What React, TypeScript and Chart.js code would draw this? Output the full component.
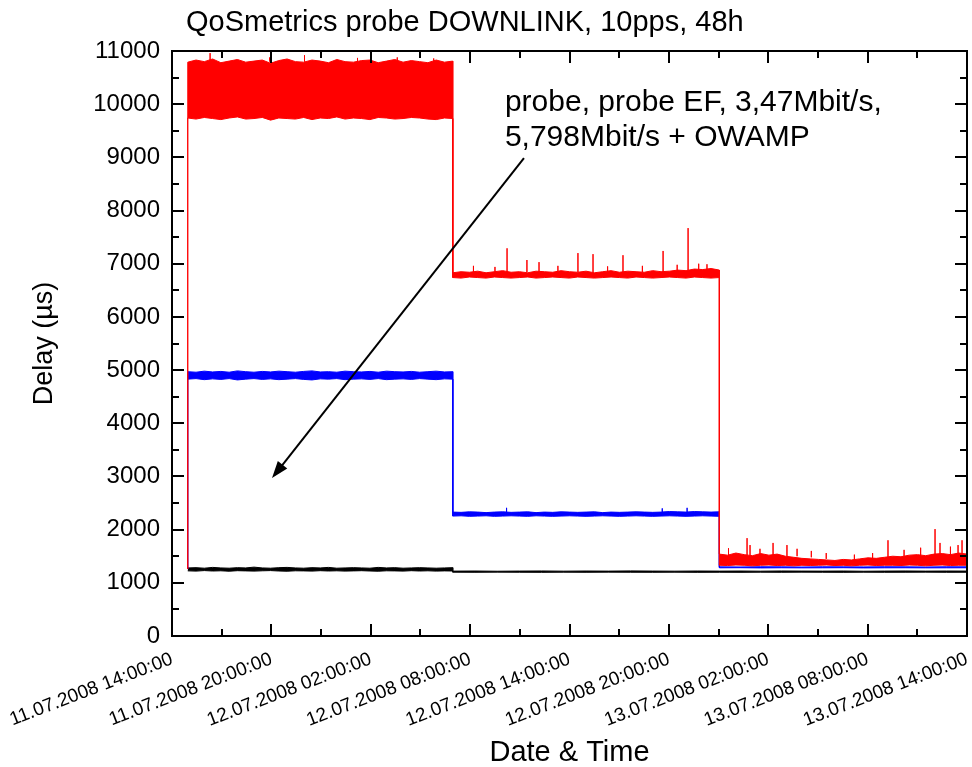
import React, { useEffect, useRef } from 'react';
import { Chart, registerables } from 'chart.js';

Chart.register(...registerables);

const FONT = '"Liberation Sans", Arial, Helvetica, sans-serif';

const chartTitle = 'QoSmetrics probe DOWNLINK, 10pps, 48h';
const xAxisTitle = 'Date & Time';
const yAxisTitle = 'Delay (µs)';

// hours since 11.07.2008 14:00:00
const xTickHours = [0, 6, 12, 18, 24, 30, 36, 42, 48];
const xMinorHours = [3, 9, 15, 21, 27, 33, 39, 45];
const xTickLabels = [
  '11.07.2008 14:00:00',
  '11.07.2008 20:00:00',
  '12.07.2008 02:00:00',
  '12.07.2008 08:00:00',
  '12.07.2008 14:00:00',
  '12.07.2008 20:00:00',
  '13.07.2008 02:00:00',
  '13.07.2008 08:00:00',
  '13.07.2008 14:00:00',
];
const yTickValues = [0, 1000, 2000, 3000, 4000, 5000, 6000, 7000, 8000, 9000, 10000, 11000];
const yMinorValues = [500, 1500, 2500, 3500, 4500, 5500, 6500, 7500, 8500, 9500, 10500];

// measurement phases: start, rate change 1, rate change 2, end (hours)
const segmentHours = [0.95, 16.95, 33.05, 48];

// probe (red) – upper / lower envelope of the delay band per phase (µs)
const redStart = 1260;
const redHi1 = [10790, 10830, 10800, 10850, 10780, 10810, 10840, 10790, 10810, 10830, 10770, 10820, 10850, 10800, 10790, 10830, 10810, 10780, 10840, 10800, 10790, 10820, 10830, 10780, 10810, 10840, 10790, 10820, 10800, 10780, 10830, 10790, 10810];
const redLo1 = [9740, 9720, 9750, 9730, 9710, 9740, 9760, 9720, 9730, 9750, 9700, 9740, 9730, 9720, 9750, 9710, 9740, 9730, 9760, 9720, 9740, 9730, 9710, 9750, 9740, 9720, 9730, 9750, 9740, 9720, 9710, 9740, 9730];
const redHi2 = [6830, 6850, 6840, 6860, 6830, 6850, 6870, 6840, 6850, 6830, 6860, 6850, 6840, 6870, 6850, 6840, 6860, 6830, 6850, 6870, 6840, 6860, 6850, 6840, 6870, 6850, 6860, 6880, 6870, 6900, 6890, 6910, 6880];
const redLo2 = [6740, 6730, 6750, 6740, 6730, 6750, 6740, 6730, 6740, 6750, 6730, 6740, 6750, 6740, 6730, 6750, 6740, 6730, 6740, 6750, 6740, 6730, 6750, 6740, 6730, 6740, 6750, 6740, 6730, 6750, 6740, 6730, 6740];
const redHi3 = [1540, 1520, 1560, 1530, 1510, 1550, 1520, 1540, 1500, 1480, 1460, 1450, 1440, 1430, 1420, 1440, 1430, 1450, 1470, 1460, 1480, 1500, 1490, 1520, 1530, 1510, 1540, 1550, 1530, 1560, 1540];
const redLo3 = [1330, 1325, 1335, 1330, 1320, 1330, 1335, 1325, 1330, 1320, 1330, 1325, 1330, 1335, 1325, 1330, 1320, 1330, 1335, 1325, 1330, 1330, 1325, 1335, 1330, 1320, 1330, 1335, 1325, 1330, 1330];
// [hour, base, peak]
const redSpikes = [
  [2.3, 10800, 10960], [5.9, 10800, 10880], [8.0, 10800, 10920], [11.2, 10800, 10870], [13.6, 10800, 10880], [15.8, 10800, 10860],
  [18.2, 6840, 6960], [19.5, 6840, 6940], [20.23, 6840, 7290], [21.43, 6840, 7070], [22.16, 6840, 7030], [23.3, 6840, 6960],
  [24.51, 6840, 7200], [25.42, 6840, 7180], [26.3, 6840, 6950], [27.23, 6840, 7160], [28.4, 6840, 6960], [29.65, 6840, 7240],
  [30.5, 6840, 6980], [31.16, 6840, 7670], [31.8, 6840, 7000], [32.3, 6840, 6990],
  [33.6, 1500, 1650], [34.72, 1500, 1840], [34.9, 1500, 1710], [35.5, 1500, 1640], [36.29, 1500, 1750], [37.13, 1500, 1710],
  [37.74, 1500, 1640], [38.6, 1480, 1600], [39.5, 1450, 1560], [41.2, 1420, 1530], [42.3, 1440, 1560], [43.23, 1450, 1800],
  [44.2, 1480, 1620], [45.2, 1500, 1660], [46.07, 1500, 2010], [46.37, 1500, 1750], [47.0, 1500, 1680], [47.46, 1500, 1710],
  [47.7, 1500, 1800],
];

// probe EF (blue)
const blueStart = 1260;
const blueHi1 = [4970, 4960, 4980, 4965, 4975, 4960, 4985, 4970, 4960, 4975, 4965, 4980, 4970, 4960, 4975, 4985, 4965, 4970, 4960, 4980, 4970, 4965, 4975, 4960, 4980, 4970, 4965, 4975, 4960, 4970, 4980, 4965, 4970];
const blueLo1 = [4830, 4840, 4820, 4835, 4825, 4840, 4815, 4830, 4840, 4825, 4835, 4820, 4830, 4840, 4825, 4815, 4835, 4830, 4840, 4820, 4830, 4835, 4825, 4840, 4820, 4830, 4835, 4825, 4840, 4830, 4820, 4835, 4830];
const blueHi2 = [2330, 2325, 2335, 2330, 2320, 2330, 2335, 2325, 2330, 2335, 2320, 2330, 2325, 2335, 2330, 2325, 2330, 2335, 2320, 2330, 2325, 2330, 2335, 2330, 2325, 2330, 2340, 2335, 2330, 2340, 2335, 2330, 2335];
const blueLo2 = [2255, 2260, 2250, 2255, 2260, 2250, 2255, 2260, 2255, 2250, 2260, 2255, 2250, 2255, 2260, 2255, 2250, 2255, 2260, 2255, 2250, 2255, 2260, 2255, 2250, 2255, 2260, 2255, 2250, 2255, 2260, 2255, 2250];
const blueHi3 = [1300, 1298, 1302, 1300, 1297, 1301, 1300, 1299, 1302, 1300, 1298, 1301, 1300];
const blueLo3 = [1282, 1284, 1280, 1283, 1281, 1282, 1284, 1280, 1282, 1283, 1281, 1282, 1283];
const blueSpikes = [[20.2, 2330, 2410], [29.6, 2330, 2400], [31.1, 2330, 2410]];

// OWAMP (black)
const blackHi1 = [1280, 1285, 1275, 1290, 1280, 1275, 1285, 1280, 1295, 1280, 1275, 1285, 1290, 1280, 1275, 1285, 1280, 1290, 1275, 1280, 1285, 1280, 1275, 1290, 1280, 1285, 1275, 1280, 1285, 1280, 1275, 1280, 1285];
const blackLo1 = [1225, 1220, 1230, 1222, 1226, 1218, 1228, 1224, 1220, 1226, 1230, 1222, 1218, 1226, 1224, 1220, 1228, 1222, 1226, 1220, 1224, 1228, 1222, 1218, 1226, 1224, 1220, 1228, 1222, 1226, 1220, 1224, 1222];
const blackHi2 = [1220, 1222, 1218, 1221, 1223, 1219, 1222, 1220, 1224, 1221, 1219, 1222, 1220];
const blackLo2 = [1200, 1198, 1201, 1199, 1197, 1200, 1198, 1201, 1199, 1198, 1200, 1197, 1199];
const blackHi3 = [1220, 1222, 1219, 1223, 1221, 1220, 1222, 1218, 1221, 1223, 1220, 1222, 1221];
const blackLo3 = [1199, 1197, 1200, 1198, 1201, 1199, 1197, 1200, 1198, 1199, 1201, 1198, 1199];

// annotation (data coordinates)
const noteLines = ['probe, probe EF, 3,47Mbit/s,', '5,798Mbit/s + OWAMP'];
const noteX = 20.1;
const noteLineY = [9870, 9220];
const arrowFrom = [21.25, 8985];
const arrowTo = [6.04, 2970];

type Pt = { x: number; y: number | null };

function phasePath(start: number | null, phases: number[][]): Pt[] {
  const pts: Pt[] = [];
  if (start !== null) pts.push({ x: segmentHours[0], y: start });
  phases.forEach((vals, i) => {
    const s = segmentHours[i];
    const e = segmentHours[i + 1];
    vals.forEach((v, k) => {
      pts.push({ x: s + ((e - s) * k) / (vals.length - 1), y: v });
    });
  });
  return pts;
}

function needles(spikes: number[][]): Pt[] {
  const pts: Pt[] = [];
  spikes.forEach(([t, base, peak]) => {
    pts.push({ x: t, y: base }, { x: t, y: peak }, { x: t, y: base }, { x: t, y: null });
  });
  return pts;
}

const RED = 'rgb(255,0,0)';
const BLUE = 'rgb(0,0,255)';
const BLACK = 'rgb(0,0,0)';

function lineDs(data: Pt[], color: string, fill: any) {
  return {
    data,
    borderColor: color,
    backgroundColor: color,
    borderWidth: 1,
    pointRadius: 0,
    tension: 0,
    fill,
    spanGaps: false,
  };
}

const decorPlugin = {
  id: 'decor',
  afterDraw(chart: any) {
    const { ctx, chartArea: a, scales } = chart;
    const xs = scales.x;
    const ys = scales.y;
    ctx.save();
    ctx.strokeStyle = '#000';
    ctx.lineWidth = 2;
    ctx.strokeRect(a.left, a.top, a.right - a.left, a.bottom - a.top);
    const tick = (x1: number, y1: number, x2: number, y2: number) => {
      ctx.beginPath();
      ctx.moveTo(x1, y1);
      ctx.lineTo(x2, y2);
      ctx.stroke();
    };
    const yAll = [...yTickValues.map((v) => [v, 12]), ...yMinorValues.map((v) => [v, 7])];
    yAll.forEach(([v, len]) => {
      const py = Math.round(ys.getPixelForValue(v));
      tick(a.left, py, a.left + len, py);
      tick(a.right, py, a.right - len, py);
    });
    const xAll = [...xTickHours.map((v) => [v, 12]), ...xMinorHours.map((v) => [v, 7])];
    xAll.forEach(([v, len]) => {
      const px = Math.round(xs.getPixelForValue(v));
      tick(px, a.bottom, px, a.bottom - len);
      tick(px, a.top, px, a.top + len);
    });

    // title
    ctx.fillStyle = '#000';
    ctx.font = `29px ${FONT}`;
    ctx.textAlign = 'left';
    ctx.textBaseline = 'alphabetic';
    ctx.fillText(chartTitle, a.left + 14, 31);

    // annotation text
    ctx.font = `30px ${FONT}`;
    noteLines.forEach((txt, i) => {
      ctx.fillText(txt, xs.getPixelForValue(noteX), ys.getPixelForValue(noteLineY[i]));
    });

    // arrow
    const x1 = xs.getPixelForValue(arrowFrom[0]);
    const y1 = ys.getPixelForValue(arrowFrom[1]);
    const x2 = xs.getPixelForValue(arrowTo[0]);
    const y2 = ys.getPixelForValue(arrowTo[1]);
    const ang = Math.atan2(y2 - y1, x2 - x1);
    const headLen = 17;
    const headW = 6;
    ctx.lineWidth = 2;
    ctx.beginPath();
    ctx.moveTo(x1, y1);
    ctx.lineTo(x2 - Math.cos(ang) * (headLen - 2), y2 - Math.sin(ang) * (headLen - 2));
    ctx.stroke();
    const bx = x2 - Math.cos(ang) * headLen;
    const by = y2 - Math.sin(ang) * headLen;
    ctx.beginPath();
    ctx.moveTo(x2, y2);
    ctx.lineTo(bx + Math.sin(ang) * headW, by - Math.cos(ang) * headW);
    ctx.lineTo(bx - Math.sin(ang) * headW, by + Math.cos(ang) * headW);
    ctx.closePath();
    ctx.fill();
    ctx.restore();
  },
};

export default function App() {
  const ref = useRef<HTMLCanvasElement>(null);
  useEffect(() => {
    document.body.style.margin = '0';
    const datasets: any[] = [
      lineDs(phasePath(redStart, [redHi1, redHi2, redHi3]), RED, '+1'),
      lineDs(phasePath(redStart, [redLo1, redLo2, redLo3]), RED, false),
      lineDs(needles(redSpikes), RED, false),
      lineDs(phasePath(blueStart, [blueHi1, blueHi2, blueHi3]), BLUE, '+1'),
      lineDs(phasePath(blueStart, [blueLo1, blueLo2, blueLo3]), BLUE, false),
      lineDs(needles(blueSpikes), BLUE, false),
      lineDs(phasePath(null, [blackHi1, blackHi2, blackHi3]), BLACK, '+1'),
      lineDs(phasePath(null, [blackLo1, blackLo2, blackLo3]), BLACK, false),
    ];
    const chart = new Chart(ref.current as HTMLCanvasElement, {
      type: 'line',
      data: { datasets },
      options: {
        animation: false,
        responsive: false,
        devicePixelRatio: 1,
        parsing: false as any,
        normalized: true,
        layout: { padding: { top: 51, right: 5, left: 0, bottom: 0 } },
        plugins: {
          legend: { display: false },
          tooltip: { enabled: false },
          title: { display: false },
        },
        scales: {
          x: {
            type: 'linear',
            min: 0,
            max: 48,
            grid: { display: false, drawTicks: false },
            border: { display: false },
            afterBuildTicks: (s: any) => {
              s.ticks = xTickHours.map((v) => ({ value: v }));
            },
            afterFit: (s: any) => {
              s.height = 131;
              s.paddingLeft = 0;
              s.paddingRight = 0;
            },
            ticks: {
              autoSkip: false,
              minRotation: 21,
              maxRotation: 21,
              padding: 12,
              color: '#000',
              font: { family: FONT, size: 19 },
              callback: (_v: any, i: number) => xTickLabels[i],
            },
            title: {
              display: true,
              text: xAxisTitle,
              color: '#000',
              font: { family: FONT, size: 29, lineHeight: 1.0 },
              padding: { top: 0, bottom: 0 },
            },
          },
          y: {
            type: 'linear',
            min: 0,
            max: 11000,
            grid: { display: false, drawTicks: false },
            border: { display: false },
            afterBuildTicks: (s: any) => {
              s.ticks = yTickValues.map((v) => ({ value: v }));
            },
            afterFit: (s: any) => {
              s.width = 172;
            },
            ticks: {
              padding: 12,
              color: '#000',
              font: { family: FONT, size: 24 },
              callback: (v: any) => String(v),
            },
            title: {
              display: true,
              text: yAxisTitle,
              color: '#000',
              font: { family: FONT, size: 27 },
              padding: { top: 28, bottom: 0 },
            },
          },
        },
      },
      plugins: [decorPlugin],
    });
    return () => chart.destroy();
  }, []);
  return (
    <div style={{ width: 972, height: 767, background: '#fff' }}>
      <canvas ref={ref} width={972} height={767} style={{ display: 'block' }} />
    </div>
  );
}
